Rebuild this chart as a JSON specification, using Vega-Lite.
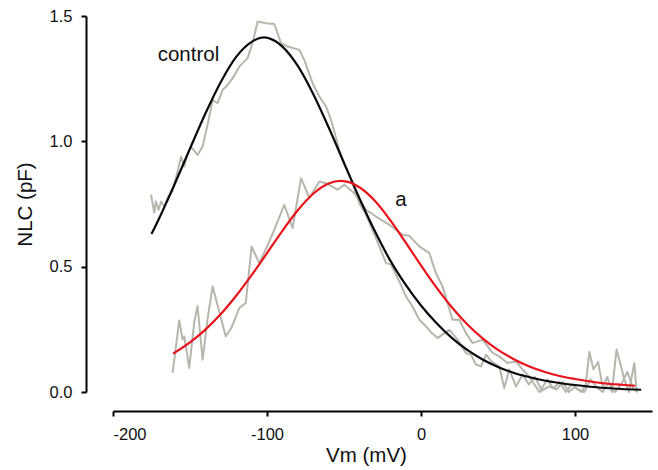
{
  "$schema": "https://vega.github.io/schema/vega-lite/v6.json",
  "width": 539,
  "height": 376,
  "autosize": "none",
  "padding": {"left": 113, "top": 16, "right": 6, "bottom": 78},
  "config": {
    "view": {"stroke": null},
    "font": "Liberation Sans",
    "axis": {
      "grid": false,
      "domainColor": "#000",
      "domainWidth": 2,
      "tickColor": "#000",
      "tickWidth": 2,
      "tickSize": 5,
      "labelColor": "#111",
      "labelFontSize": 16.5,
      "labelFont": "Liberation Sans",
      "titleFont": "Liberation Sans",
      "titleFontSize": 20.5,
      "titleFontWeight": "normal",
      "titleColor": "#111"
    }
  },
  "datasets": {
    "traces": [
      {"V": -175.3, "C": 0.787, "s": "control"},
      {"V": -173.2, "C": 0.716, "s": "control"},
      {"V": -172.1, "C": 0.76, "s": "control"},
      {"V": -170.4, "C": 0.727, "s": "control"},
      {"V": -168.8, "C": 0.76, "s": "control"},
      {"V": -166.7, "C": 0.74, "s": "control"},
      {"V": -164.0, "C": 0.78, "s": "control"},
      {"V": -161.5, "C": 0.8, "s": "control"},
      {"V": -158.5, "C": 0.87, "s": "control"},
      {"V": -155.8, "C": 0.939, "s": "control"},
      {"V": -153.7, "C": 0.9, "s": "control"},
      {"V": -151.6, "C": 0.953, "s": "control"},
      {"V": -149.4, "C": 0.979, "s": "control"},
      {"V": -145.1, "C": 0.946, "s": "control"},
      {"V": -141.8, "C": 0.979, "s": "control"},
      {"V": -138.6, "C": 1.066, "s": "control"},
      {"V": -135.3, "C": 1.165, "s": "control"},
      {"V": -132.1, "C": 1.152, "s": "control"},
      {"V": -128.8, "C": 1.205, "s": "control"},
      {"V": -125.6, "C": 1.225, "s": "control"},
      {"V": -122.3, "C": 1.252, "s": "control"},
      {"V": -118.0, "C": 1.298, "s": "control"},
      {"V": -112.6, "C": 1.332, "s": "control"},
      {"V": -109.4, "C": 1.392, "s": "control"},
      {"V": -106.1, "C": 1.478, "s": "control"},
      {"V": -100.6, "C": 1.471, "s": "control"},
      {"V": -95.3, "C": 1.468, "s": "control"},
      {"V": -90.9, "C": 1.392, "s": "control"},
      {"V": -86.6, "C": 1.378, "s": "control"},
      {"V": -79.0, "C": 1.365, "s": "control"},
      {"V": -75.8, "C": 1.325, "s": "control"},
      {"V": -70.4, "C": 1.232, "s": "control"},
      {"V": -66.0, "C": 1.179, "s": "control"},
      {"V": -61.7, "C": 1.139, "s": "control"},
      {"V": -58.4, "C": 1.086, "s": "control"},
      {"V": -53.1, "C": 0.966, "s": "control"},
      {"V": -49.8, "C": 0.907, "s": "control"},
      {"V": -44.4, "C": 0.833, "s": "control"},
      {"V": -40.1, "C": 0.754, "s": "control"},
      {"V": -35.7, "C": 0.707, "s": "control"},
      {"V": -31.0, "C": 0.64, "s": "control"},
      {"V": -27.0, "C": 0.58, "s": "control"},
      {"V": -22.7, "C": 0.514, "s": "control"},
      {"V": -19.5, "C": 0.508, "s": "control"},
      {"V": -14.0, "C": 0.44, "s": "control"},
      {"V": -9.7, "C": 0.381, "s": "control"},
      {"V": -5.5, "C": 0.341, "s": "control"},
      {"V": -1.1, "C": 0.288, "s": "control"},
      {"V": 3.2, "C": 0.262, "s": "control"},
      {"V": 7.0, "C": 0.235, "s": "control"},
      {"V": 10.8, "C": 0.215, "s": "control"},
      {"V": 14.0, "C": 0.23, "s": "control"},
      {"V": 18.4, "C": 0.248, "s": "control"},
      {"V": 23.8, "C": 0.209, "s": "control"},
      {"V": 29.2, "C": 0.155, "s": "control"},
      {"V": 32.5, "C": 0.149, "s": "control"},
      {"V": 35.5, "C": 0.11, "s": "control"},
      {"V": 39.0, "C": 0.102, "s": "control"},
      {"V": 42.2, "C": 0.149, "s": "control"},
      {"V": 46.0, "C": 0.12, "s": "control"},
      {"V": 50.8, "C": 0.102, "s": "control"},
      {"V": 54.1, "C": 0.016, "s": "control"},
      {"V": 57.3, "C": 0.09, "s": "control"},
      {"V": 61.7, "C": 0.022, "s": "control"},
      {"V": 66.0, "C": 0.07, "s": "control"},
      {"V": 70.0, "C": 0.03, "s": "control"},
      {"V": 74.0, "C": 0.06, "s": "control"},
      {"V": 78.0, "C": 0.01, "s": "control"},
      {"V": 82.0, "C": 0.05, "s": "control"},
      {"V": 86.0, "C": 0.015, "s": "control"},
      {"V": 90.0, "C": 0.04, "s": "control"},
      {"V": 94.0, "C": 0.0, "s": "control"},
      {"V": 98.0, "C": 0.03, "s": "control"},
      {"V": 102.0, "C": 0.01, "s": "control"},
      {"V": 106.0, "C": 0.0, "s": "control"},
      {"V": 110.0, "C": 0.05, "s": "control"},
      {"V": 114.0, "C": 0.02, "s": "control"},
      {"V": 118.0, "C": 0.0, "s": "control"},
      {"V": 122.0, "C": 0.04, "s": "control"},
      {"V": 126.0, "C": 0.0, "s": "control"},
      {"V": 130.0, "C": 0.03, "s": "control"},
      {"V": 134.0, "C": 0.08, "s": "control"},
      {"V": 138.0, "C": 0.01, "s": "control"},
      {"V": 141.0, "C": 0.0, "s": "control"},
      {"V": -161.3, "C": 0.076, "s": "a"},
      {"V": -157.0, "C": 0.285, "s": "a"},
      {"V": -154.8, "C": 0.209, "s": "a"},
      {"V": -153.7, "C": 0.222, "s": "a"},
      {"V": -150.5, "C": 0.096, "s": "a"},
      {"V": -147.2, "C": 0.281, "s": "a"},
      {"V": -145.1, "C": 0.342, "s": "a"},
      {"V": -141.8, "C": 0.129, "s": "a"},
      {"V": -138.6, "C": 0.292, "s": "a"},
      {"V": -135.3, "C": 0.421, "s": "a"},
      {"V": -126.8, "C": 0.222, "s": "a"},
      {"V": -123.2, "C": 0.255, "s": "a"},
      {"V": -118.0, "C": 0.335, "s": "a"},
      {"V": -113.8, "C": 0.355, "s": "a"},
      {"V": -110.0, "C": 0.58, "s": "a"},
      {"V": -105.0, "C": 0.514, "s": "a"},
      {"V": -100.0, "C": 0.58, "s": "a"},
      {"V": -95.3, "C": 0.647, "s": "a"},
      {"V": -88.8, "C": 0.747, "s": "a"},
      {"V": -83.4, "C": 0.654, "s": "a"},
      {"V": -77.9, "C": 0.853, "s": "a"},
      {"V": -72.5, "C": 0.774, "s": "a"},
      {"V": -66.0, "C": 0.84, "s": "a"},
      {"V": -61.7, "C": 0.833, "s": "a"},
      {"V": -54.2, "C": 0.807, "s": "a"},
      {"V": -49.8, "C": 0.827, "s": "a"},
      {"V": -43.3, "C": 0.793, "s": "a"},
      {"V": -35.7, "C": 0.727, "s": "a"},
      {"V": -29.2, "C": 0.7, "s": "a"},
      {"V": -20.6, "C": 0.667, "s": "a"},
      {"V": -11.9, "C": 0.627, "s": "a"},
      {"V": -7.6, "C": 0.623, "s": "a"},
      {"V": -1.1, "C": 0.581, "s": "a"},
      {"V": 5.4, "C": 0.554, "s": "a"},
      {"V": 9.7, "C": 0.474, "s": "a"},
      {"V": 14.0, "C": 0.421, "s": "a"},
      {"V": 20.5, "C": 0.288, "s": "a"},
      {"V": 24.9, "C": 0.288, "s": "a"},
      {"V": 29.2, "C": 0.235, "s": "a"},
      {"V": 33.5, "C": 0.195, "s": "a"},
      {"V": 40.0, "C": 0.209, "s": "a"},
      {"V": 46.5, "C": 0.156, "s": "a"},
      {"V": 50.8, "C": 0.142, "s": "a"},
      {"V": 56.2, "C": 0.116, "s": "a"},
      {"V": 61.7, "C": 0.122, "s": "a"},
      {"V": 66.0, "C": 0.089, "s": "a"},
      {"V": 70.3, "C": 0.062, "s": "a"},
      {"V": 76.8, "C": 0.0, "s": "a"},
      {"V": 83.3, "C": 0.022, "s": "a"},
      {"V": 88.0, "C": 0.01, "s": "a"},
      {"V": 92.0, "C": 0.04, "s": "a"},
      {"V": 96.0, "C": 0.0, "s": "a"},
      {"V": 100.0, "C": 0.02, "s": "a"},
      {"V": 104.0, "C": 0.0, "s": "a"},
      {"V": 107.0, "C": 0.03, "s": "a"},
      {"V": 109.3, "C": 0.16, "s": "a"},
      {"V": 112.0, "C": 0.09, "s": "a"},
      {"V": 115.0, "C": 0.12, "s": "a"},
      {"V": 118.0, "C": 0.02, "s": "a"},
      {"V": 121.0, "C": 0.06, "s": "a"},
      {"V": 124.0, "C": 0.0, "s": "a"},
      {"V": 127.0, "C": 0.17, "s": "a"},
      {"V": 130.0, "C": 0.1, "s": "a"},
      {"V": 132.0, "C": 0.05, "s": "a"},
      {"V": 135.0, "C": 0.0, "s": "a"},
      {"V": 138.5, "C": 0.115, "s": "a"},
      {"V": 140.0, "C": 0.0, "s": "a"}
    ],
    "fits": [
      {"V": -175, "C": 0.63, "s": "control"},
      {"V": -170, "C": 0.693, "s": "control"},
      {"V": -165, "C": 0.76, "s": "control"},
      {"V": -160, "C": 0.829, "s": "control"},
      {"V": -150, "C": 0.971, "s": "control"},
      {"V": -140, "C": 1.111, "s": "control"},
      {"V": -130, "C": 1.237, "s": "control"},
      {"V": -120, "C": 1.337, "s": "control"},
      {"V": -110, "C": 1.397, "s": "control"},
      {"V": -102, "C": 1.415, "s": "control"},
      {"V": -95, "C": 1.401, "s": "control"},
      {"V": -90, "C": 1.378, "s": "control"},
      {"V": -80, "C": 1.301, "s": "control"},
      {"V": -70, "C": 1.189, "s": "control"},
      {"V": -60, "C": 1.056, "s": "control"},
      {"V": -50, "C": 0.914, "s": "control"},
      {"V": -40, "C": 0.773, "s": "control"},
      {"V": -30, "C": 0.642, "s": "control"},
      {"V": -20, "C": 0.525, "s": "control"},
      {"V": -10, "C": 0.428, "s": "control"},
      {"V": 0, "C": 0.345, "s": "control"},
      {"V": 10, "C": 0.275, "s": "control"},
      {"V": 20, "C": 0.216, "s": "control"},
      {"V": 30, "C": 0.168, "s": "control"},
      {"V": 40, "C": 0.13, "s": "control"},
      {"V": 50, "C": 0.1, "s": "control"},
      {"V": 60, "C": 0.077, "s": "control"},
      {"V": 70, "C": 0.06, "s": "control"},
      {"V": 80, "C": 0.046, "s": "control"},
      {"V": 90, "C": 0.036, "s": "control"},
      {"V": 100, "C": 0.028, "s": "control"},
      {"V": 110, "C": 0.021, "s": "control"},
      {"V": 120, "C": 0.016, "s": "control"},
      {"V": 130, "C": 0.012, "s": "control"},
      {"V": 143, "C": 0.009, "s": "control"},
      {"V": -161, "C": 0.153, "s": "a"},
      {"V": -150, "C": 0.198, "s": "a"},
      {"V": -140, "C": 0.249, "s": "a"},
      {"V": -130, "C": 0.311, "s": "a"},
      {"V": -120, "C": 0.384, "s": "a"},
      {"V": -110, "C": 0.466, "s": "a"},
      {"V": -100, "C": 0.554, "s": "a"},
      {"V": -90, "C": 0.643, "s": "a"},
      {"V": -80, "C": 0.725, "s": "a"},
      {"V": -70, "C": 0.791, "s": "a"},
      {"V": -60, "C": 0.832, "s": "a"},
      {"V": -52, "C": 0.842, "s": "a"},
      {"V": -40, "C": 0.817, "s": "a"},
      {"V": -30, "C": 0.763, "s": "a"},
      {"V": -20, "C": 0.686, "s": "a"},
      {"V": -10, "C": 0.597, "s": "a"},
      {"V": 0, "C": 0.505, "s": "a"},
      {"V": 10, "C": 0.417, "s": "a"},
      {"V": 20, "C": 0.338, "s": "a"},
      {"V": 30, "C": 0.27, "s": "a"},
      {"V": 40, "C": 0.214, "s": "a"},
      {"V": 50, "C": 0.168, "s": "a"},
      {"V": 60, "C": 0.132, "s": "a"},
      {"V": 70, "C": 0.103, "s": "a"},
      {"V": 80, "C": 0.081, "s": "a"},
      {"V": 90, "C": 0.064, "s": "a"},
      {"V": 100, "C": 0.052, "s": "a"},
      {"V": 110, "C": 0.042, "s": "a"},
      {"V": 120, "C": 0.034, "s": "a"},
      {"V": 130, "C": 0.029, "s": "a"},
      {"V": 139, "C": 0.025, "s": "a"}
    ],
    "labels": [
      {"V": -151, "C": 1.345, "t": "control"},
      {"V": -13, "C": 0.767, "t": "a"}
    ]
  },
  "encoding": {
    "x": {
      "field": "V",
      "type": "quantitative",
      "scale": {"domain": [-200, 150], "nice": false, "zero": false},
      "axis": {
        "title": "Vm (mV)",
        "values": [-200, -100, 0, 100],
        "labelExpr": "'' + datum.value",
        "offset": 19,
        "labelPadding": 10,
        "titlePadding": 3,
        "titleX": 253
      }
    },
    "y": {
      "field": "C",
      "type": "quantitative",
      "scale": {"domain": [0, 1.5], "nice": false, "zero": false},
      "axis": {
        "title": "NLC (pF)",
        "values": [0, 0.5, 1.0, 1.5],
        "format": ".1f",
        "offset": 27,
        "labelPadding": 9,
        "titlePadding": 14
      }
    }
  },
  "layer": [
    {
      "data": {"name": "traces"},
      "mark": {"type": "line", "stroke": "#b6b6ae", "strokeWidth": 2, "strokeJoin": "round"},
      "encoding": {"detail": {"field": "s", "type": "nominal"}}
    },
    {
      "data": {"name": "fits"},
      "mark": {"type": "line", "strokeWidth": 2.2, "interpolate": "monotone"},
      "encoding": {
        "color": {
          "field": "s",
          "type": "nominal",
          "scale": {"domain": ["control", "a"], "range": ["#0a0a0a", "#e8141c"]},
          "legend": null
        }
      }
    },
    {
      "data": {"name": "labels"},
      "mark": {"type": "text", "fontSize": 20.5, "font": "Liberation Sans", "color": "#111"},
      "encoding": {"text": {"field": "t", "type": "nominal"}}
    }
  ]
}
